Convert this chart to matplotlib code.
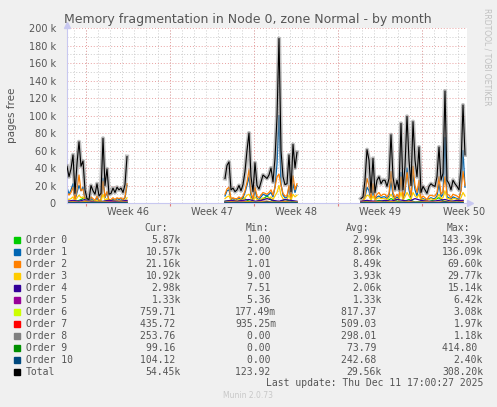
import numpy as np
import matplotlib
matplotlib.use("Agg")
import matplotlib.pyplot as plt
from matplotlib.patches import Rectangle
from matplotlib.transforms import blended_transform_factory

# --- data (values in thousands of pages) ---
# three periods with data, sampled every 4 hours; start hours from graph start
seg_start_h = [0, 316, 588]
step_h = 4
coarse_step_h = 12  # smaller orders are read at a coarser step

total_k = [
    [42, 30, 39, 55, 11, 45, 70, 42, 48, 15, 5, 4, 20, 14, 10, 22, 8, 11, 74, 20,
     39, 10, 11, 17, 12, 18, 15, 17, 12, 21, 53],
    [28, 43, 47, 15, 17, 13, 15, 20, 14, 21, 36, 60, 80, 30, 13, 46, 20, 16, 24, 32,
     30, 28, 32, 40, 24, 51, 98, 188, 60, 30, 21, 22, 55, 13, 67, 40, 58],
    [5, 7, 26, 61, 49, 12, 51, 12, 26, 30, 22, 26, 26, 19, 28, 78, 30, 15, 26, 15,
     91, 15, 42, 99, 49, 20, 93, 49, 30, 64, 12, 19, 15, 11, 19, 22, 20, 19, 30, 64,
     26, 34, 128, 26, 22, 15, 26, 22, 19, 15, 40, 112, 55],
]
order1_k = [
    [18, 10, 15, 22, 3, 12, 20, 14, 18, 4, 1, 1, 5, 3, 2, 6, 2, 3, 28, 6,
     12, 2, 3, 4, 3, 5, 4, 5, 3, 6, 20],
    [8, 14, 15, 4, 5, 3, 4, 6, 3, 6, 12, 20, 30, 8, 3, 15, 5, 4, 7, 10,
     9, 8, 10, 12, 7, 18, 45, 100, 22, 9, 6, 6, 18, 3, 22, 12, 20],
    [1, 2, 7, 18, 14, 3, 15, 3, 7, 8, 6, 7, 7, 5, 8, 25, 9, 4, 7, 4,
     35, 4, 12, 40, 15, 5, 32, 15, 8, 20, 3, 5, 4, 3, 5, 6, 5, 5, 8, 22,
     7, 10, 75, 7, 6, 4, 7, 6, 5, 4, 15, 60, 18],
]
order2_k = [
    [12, 9, 12, 18, 4, 15, 32, 14, 16, 5, 2, 1, 7, 5, 3, 8, 3, 4, 25, 7,
     13, 3, 4, 6, 4, 6, 5, 6, 4, 7, 22],
    [10, 16, 18, 5, 6, 5, 5, 7, 5, 8, 14, 24, 38, 12, 5, 18, 8, 6, 9, 12,
     11, 10, 12, 15, 9, 18, 30, 33, 20, 11, 8, 8, 20, 5, 31, 15, 22],
    [2, 2, 10, 28, 20, 5, 22, 5, 10, 12, 8, 10, 10, 7, 11, 36, 12, 6, 10, 6,
     30, 6, 16, 35, 20, 8, 42, 20, 12, 26, 5, 8, 6, 4, 8, 9, 8, 8, 12, 30,
     10, 13, 30, 10, 9, 6, 10, 9, 8, 6, 14, 36, 20],
]
order3_k = [
    [5, 4, 5, 7, 2, 6, 9, 6, 7, 3, 1, 1, 3, 2, 2, 3, 1, 2, 10, 3,
     5, 2, 2, 3, 2, 3, 2, 3, 2, 3, 6],
    [5, 7, 8, 3, 3, 3, 3, 4, 3, 4, 6, 9, 10, 5, 2, 7, 4, 3, 4, 6,
     5, 5, 6, 7, 4, 8, 12, 20, 9, 5, 4, 4, 9, 3, 10, 7, 9],
    [1, 2, 5, 9, 8, 3, 8, 3, 5, 6, 5, 5, 5, 4, 6, 10, 6, 3, 5, 3,
     12, 3, 7, 12, 8, 4, 12, 8, 6, 10, 3, 4, 3, 3, 4, 5, 4, 4, 6, 10,
     5, 6, 14, 5, 5, 3, 5, 5, 4, 3, 6, 12, 8],
]
order0_k = [
    [2, 1, 3, 6, 1, 2, 1, 4, 1, 1, 2],
    [2, 3, 1, 6, 2, 1, 3, 8, 2, 1, 4, 2, 1],
    [1, 2, 1, 3, 1, 5, 2, 1, 4, 1, 2, 1, 3, 6, 1, 2, 1, 3],
]
order4_k = [
    [2, 3, 2, 4, 2, 1, 2, 3, 2, 2, 3],
    [2, 3, 2, 3, 4, 2, 3, 5, 3, 2, 4, 3, 2],
    [2, 3, 2, 2, 3, 2, 4, 3, 2, 5, 3, 2, 2, 3, 4, 2, 3, 3],
]
order5_k = [
    [1, 2, 1, 2, 1, 1, 1, 2, 1, 1, 2],
    [1, 2, 1, 2, 1, 1, 2, 2, 1, 1, 2, 1, 1],
    [1, 1, 2, 1, 1, 2, 1, 1, 2, 1, 1, 2, 1, 1, 2, 1, 1, 2],
]
order6_k = [
    [0.8, 1.2, 0.6, 1.5, 0.7, 0.9, 1.1, 0.8, 0.6, 1.0, 0.9],
    [0.7, 1.3, 0.8, 1.0, 1.6, 0.7, 1.2, 2.0, 0.9, 0.8, 1.4, 0.7, 1.0],
    [0.6, 1.0, 0.8, 1.2, 0.7, 1.5, 0.9, 0.8, 1.3, 0.7, 0.9, 1.1, 0.8, 1.0, 2.2, 0.9, 0.8, 1.2],
]
order7_k = [
    [0.5, 0.6, 0.4, 0.8, 0.5, 0.5, 0.6, 0.5, 0.4, 0.6, 0.5],
    [0.4, 0.7, 0.5, 0.6, 0.9, 0.4, 0.6, 1.2, 0.5, 0.5, 0.8, 0.4, 0.6],
    [0.4, 0.6, 0.5, 0.7, 0.4, 0.8, 0.5, 0.5, 0.7, 0.4, 0.5, 0.6, 0.5, 0.6, 1.4, 0.5, 0.5, 0.7],
]
order8_k = [
    [0.3, 0.4, 0.2, 0.5, 0.3, 0.3, 0.3, 0.2, 0.3, 0.4, 0.3],
    [0.3, 0.4, 0.2, 0.3, 0.5, 0.3, 0.3, 0.8, 0.3, 0.2, 0.4, 0.3, 0.3],
    [0.2, 0.3, 0.3, 0.4, 0.2, 0.4, 0.3, 0.3, 0.4, 0.2, 0.3, 0.3, 0.3, 0.3, 0.9, 0.3, 0.2, 0.3],
]
order9_k = [
    [0.1, 0.1, 0.05, 0.1, 0.05, 0.1, 0.1, 0.05, 0.1, 0.1, 0.05],
    [0.05, 0.1, 0.05, 0.1, 0.2, 0.05, 0.1, 0.3, 0.1, 0.05, 0.1, 0.05, 0.1],
    [0.05, 0.1, 0.05, 0.1, 0.05, 0.1, 0.05, 0.1, 0.1, 0.05, 0.05, 0.1, 0.05, 0.1, 0.4, 0.05, 0.1, 0.1],
]
order10_k = [
    [0.2, 0.3, 0.1, 0.4, 0.2, 0.2, 0.3, 0.2, 0.2, 0.3, 0.2],
    [0.2, 0.3, 0.2, 0.2, 0.5, 0.2, 0.3, 1.0, 0.2, 0.2, 0.3, 0.2, 0.2],
    [0.1, 0.2, 0.2, 0.3, 0.2, 0.3, 0.2, 0.2, 0.3, 0.2, 0.2, 0.3, 0.2, 0.2, 1.2, 0.2, 0.2, 0.3],
]

labels = ["Order 0", "Order 1", "Order 2", "Order 3", "Order 4", "Order 5",
          "Order 6", "Order 7", "Order 8", "Order 9", "Order 10", "Total"]
colors = ["#00CC00", "#0066B3", "#FF8000", "#FFCC00", "#330099", "#990099",
          "#CCFF00", "#FF0000", "#808080", "#008F00", "#00487D", "#000000"]
cur = ["5.87k", "10.57k", "21.16k", "10.92k", "2.98k", "1.33k", "759.71 ",
       "435.72 ", "253.76 ", "99.16 ", "104.12 ", "54.45k"]
mins = ["1.00 ", "2.00 ", "1.01 ", "9.00 ", "7.51 ", "5.36 ", "177.49m",
        "935.25m", "0.00 ", "0.00 ", "0.00 ", "123.92 "]
avgs = ["2.99k", "8.86k", "8.49k", "3.93k", "2.06k", "1.33k", "817.37 ",
        "509.03 ", "298.01 ", "73.79 ", "242.68 ", "29.56k"]
maxs = ["143.39k", "136.09k", "69.60k", "29.77k", "15.14k", "6.42k", "3.08k",
        "1.97k", "1.18k", "414.80 ", "2.40k", "308.20k"]

week_labels = ["Week 46", "Week 47", "Week 48", "Week 49", "Week 50"]
first_week_h = 38     # first week boundary, hours from graph start
graph_span_h = 800

TXT = "#555555"
W, H = 497, 407

fig = plt.figure(figsize=(W / 100, H / 100), dpi=100, facecolor="#F0F0F0")
ax = fig.add_axes([67 / W, 1 - 203 / H, 400 / W, 175 / H])
ax.set_facecolor("white")
ax.set_xlim(0, graph_span_h)
ax.set_ylim(0, 200000)


def seg_x(i, n, step):
    return seg_start_h[i] + step * np.arange(n)


# grid
for h in np.arange(first_week_h - 24, graph_span_h, 24):
    ax.axvline(h, color="#CCCCCC", lw=0.7, ls=(0, (1, 2)), zorder=0)
for h in np.arange(first_week_h, graph_span_h, 168):
    ax.axvline(h, color="#E8A0A0", lw=0.7, ls=(0, (1, 2)), zorder=0.5)
for v in range(10000, 200001, 20000):
    ax.axhline(v, color="#CCCCCC", lw=0.7, ls=(0, (1, 2)), zorder=0)
for v in range(20000, 200001, 20000):
    ax.axhline(v, color="#E8A0A0", lw=0.7, ls=(0, (1, 2)), zorder=0.5)

# series
fine = {1: order1_k, 2: order2_k, 3: order3_k}
coarse = {0: order0_k, 4: order4_k, 5: order5_k, 6: order6_k, 7: order7_k,
          8: order8_k, 9: order9_k, 10: order10_k}
for k in range(11):
    for i in range(3):
        if k in fine:
            vals = np.array(fine[k][i]) * 1000
            xs = seg_x(i, len(vals), step_h)
        else:
            vals = np.array(coarse[k][i]) * 1000
            xs = seg_x(i, len(vals), coarse_step_h)
        ax.plot(xs, vals, color=colors[k], lw=0.9, zorder=2 + k * 0.01)

for i in range(3):
    vals = np.array(total_k[i]) * 1000
    xs = seg_x(i, len(vals), step_h)
    ax.plot(xs, vals, color="#888888", lw=3.0, alpha=0.55, zorder=3)
    ax.plot(xs, vals, color="black", lw=0.8, zorder=3.1)

# axes
for s in ["top", "right"]:
    ax.spines[s].set_visible(False)
for s in ["left", "bottom"]:
    ax.spines[s].set_color("#C8C8F0")
    ax.spines[s].set_linewidth(0.8)
ax.plot([1.0 + 3 / 400], [0], marker=">", ms=4, color="#C8C8F0",
        transform=ax.transAxes, clip_on=False)
ax.plot([0], [1.0 + 3 / 175], marker="^", ms=4, color="#C8C8F0",
        transform=ax.transAxes, clip_on=False)

yt = list(range(0, 200001, 20000))
ax.set_yticks(yt)
ax.set_yticklabels(["0"] + [f"{v // 1000} k" for v in yt[1:]])
ax.tick_params(axis="y", length=0, pad=8, labelsize=7, labelcolor=TXT)

week_bounds = np.arange(first_week_h, graph_span_h, 168)
ax.set_xticks(week_bounds)
ax.set_xticklabels([])
ax.tick_params(axis="x", length=2, color="#E08080", direction="out")
trans = blended_transform_factory(ax.transData, ax.transAxes)
for j, lab in enumerate(week_labels):
    ax.text(week_bounds[j] + 84, -0.05, lab, transform=trans, ha="center",
            va="center", fontsize=7, color=TXT)

ax.set_ylabel("pages free", fontsize=7.5, color=TXT)
ax.yaxis.set_label_coords(-50 / 400, 0.5)

fig.text(248 / W, 1 - 20 / H, "Memory fragmentation in Node 0, zone Normal - by month",
         ha="center", va="center", fontsize=9, color=TXT)
fig.text(487 / W, 1 - 57 / H, "RRDTOOL / TOBI OETIKER", rotation=270, ha="center",
         va="center", fontsize=5.5, color="#C0C0C0")

# legend block
mono = "DejaVu Sans Mono"
fs = 7
hdr_y = 227.7
for txt, xe in [("Cur:", 168), ("Min:", 269), ("Avg:", 369), ("Max:", 470)]:
    fig.text(xe / W, 1 - hdr_y / H, txt, ha="right", va="center",
             family=mono, fontsize=fs, color=TXT)
for r in range(len(labels)):
    yc = 239.7 + 12 * r
    fig.patches.append(Rectangle((14 / W, 1 - (yc + 3) / H), 6 / W, 6 / H,
                                 transform=fig.transFigure, color=colors[r]))
    fig.text(26 / W, 1 - yc / H, labels[r], ha="left", va="center",
             family=mono, fontsize=fs, color=TXT)
    for col, xe in [(cur, 181), (mins, 276), (avgs, 382), (maxs, 483)]:
        fig.text(xe / W, 1 - yc / H, col[r], ha="right", va="center",
                 family=mono, fontsize=fs, color=TXT)

fig.text(483 / W, 1 - 383.3 / H, "Last update: Thu Dec 11 17:00:27 2025",
         ha="right", va="center", family=mono, fontsize=fs, color=TXT)
fig.text(248 / W, 1 - 396 / H, "Munin 2.0.73", ha="center", va="center",
         fontsize=5.5, color="#C8C8C8")

fig.savefig("out.png", dpi=100, facecolor=fig.get_facecolor())
